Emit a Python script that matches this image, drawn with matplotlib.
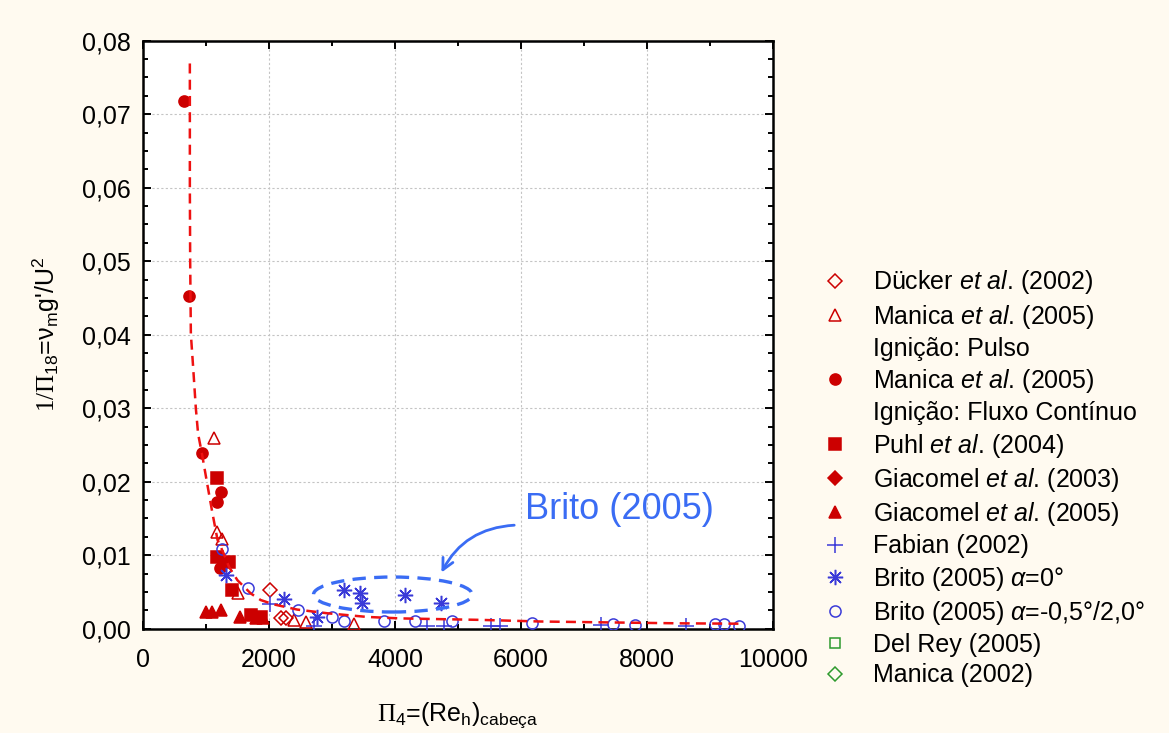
import matplotlib
matplotlib.use("Agg")
import matplotlib.pyplot as plt
from matplotlib.lines import Line2D
from matplotlib.patches import Ellipse
from matplotlib.ticker import MultipleLocator, FuncFormatter

plt.rcParams["font.family"] = ["Liberation Sans", "DejaVu Sans"]
plt.rcParams["mathtext.fontset"] = "custom"
plt.rcParams["mathtext.rm"] = "Liberation Serif"
plt.rcParams["mathtext.sf"] = "Liberation Sans"
plt.rcParams["mathtext.it"] = "Liberation Sans:italic"

# data
ducker_x = [2010, 2185, 2264]
ducker_y = [0.0052, 0.0014, 0.0014]

manica_pulso_x = [1129, 1182, 1251, 1515, 2395, 2580, 3345]
manica_pulso_y = [0.0260, 0.0132, 0.0122, 0.0048, 0.0012, 0.0009, 0.0007]

manica_fluxo_x = [649, 723, 934, 1171, 1235, 1224]
manica_fluxo_y = [0.0718, 0.0453, 0.0239, 0.0173, 0.0186, 0.0082]

puhl_x = [1167, 1182, 1361, 1420, 1710, 1868]
puhl_y = [0.0205, 0.0098, 0.0091, 0.0053, 0.00186, 0.00163]

giacomel03_x = []
giacomel03_y = []

giacomel05_x = [997, 1103, 1246, 1540, 1789, 1900]
giacomel05_y = [0.0023, 0.0023, 0.0026, 0.00155, 0.0015, 0.00146]

fabian_x = [2015, 2707, 4507, 4770, 5520, 5667, 7277, 8623]
fabian_y = [0.0034, 0.0003, 0.0003, 0.0003, 0.0004, 0.0004, 0.0005, 0.0004]

brito0_x = [1314, 2237, 2765, 3187, 3440, 3478, 4163, 4728]
brito0_y = [0.0073, 0.0041, 0.0016, 0.0053, 0.0048, 0.0035, 0.0046, 0.0035]

brito05_x = [1250, 1667, 2458, 3003, 3187, 3820, 4322, 4903, 6169, 7461, 7804, 9086, 9229, 9455]
brito05_y = [0.0108, 0.0056, 0.0025, 0.0016, 0.0010, 0.0010, 0.0010, 0.0010,
             0.0008, 0.0006, 0.0005, 0.0007, 0.0007, 0.0004]

delrey_x = []
delrey_y = []
manica02_x = []
manica02_y = []

fit_x = [744, 744, 749, 760, 796, 839, 875, 934, 1024, 1103, 1183, 1277, 1366, 1499,
         1710, 1868, 2078, 2449, 2924, 3557, 4084, 5351, 6300, 7250, 8517, 9466]
fit_y = [0.0769, 0.0601, 0.0502, 0.0401, 0.0356, 0.0300, 0.0265, 0.0239, 0.0195,
         0.0157, 0.0121, 0.0103, 0.0084, 0.0066, 0.0048, 0.0039, 0.0033, 0.0026,
         0.0021, 0.0016, 0.0014, 0.0012, 0.00098, 0.00087, 0.00073, 0.00068]

RED = "#cc0000"
BLUE = "#3a3ad8"
GREEN = "#2e9a2e"
HL = "#3a6cf4"

fig = plt.figure(figsize=(11.69, 7.33), dpi=100, facecolor="#fffaf0")
ax = fig.add_axes([0.1223, 0.1423, 0.539, 0.8022])
ax.set_facecolor("white")

series = [
    (ducker_x, ducker_y, "D", 7.5, "none", RED, r"Dücker $\mathit{et\ al}$. (2002)"),
    (manica_pulso_x, manica_pulso_y, "^", 8.5, "none", RED, r"Manica $\mathit{et\ al}$. (2005)"),
    (manica_fluxo_x, manica_fluxo_y, "o", 8, RED, RED, r"Manica $\mathit{et\ al}$. (2005)"),
    (puhl_x, puhl_y, "s", 8, RED, RED, r"Puhl $\mathit{et\ al}$. (2004)"),
    (giacomel03_x, giacomel03_y, "D", 7.5, RED, RED, r"Giacomel $\mathit{et\ al}$. (2003)"),
    (giacomel05_x, giacomel05_y, "^", 8.5, RED, RED, r"Giacomel $\mathit{et\ al}$. (2005)"),
    (fabian_x, fabian_y, "+", 11, BLUE, BLUE, "Fabian (2002)"),
    (brito0_x, brito0_y, (8, 2, 0), 11, BLUE, BLUE, r"Brito (2005) $\mathit{\alpha}$=0°"),
    (brito05_x, brito05_y, "o", 8, "none", BLUE, r"Brito (2005) $\mathit{\alpha}$=-0,5°/2,0°"),
    (delrey_x, delrey_y, "s", 7, "none", GREEN, "Del Rey (2005)"),
    (manica02_x, manica02_y, "D", 7, "none", GREEN, "Manica (2002)"),
]

handles = []
labels = []
blank = Line2D([], [], linestyle="none", marker="none")
for i, (xs, ys, m, ms, fc, ec, lab) in enumerate(series):
    h, = ax.plot(xs, ys, linestyle="none", marker=m, markersize=ms,
                 markerfacecolor=fc, markeredgecolor=ec, markeredgewidth=1.1, zorder=3)
    handles.append(h)
    labels.append(lab)
    if i == 1:
        handles.append(blank)
        labels.append("Ignição: Pulso")
    if i == 2:
        handles.append(blank)
        labels.append("Ignição: Fluxo Contínuo")

ax.plot(fit_x, fit_y, color="#ee1111", linestyle=(0, (4, 2.5)), linewidth=1.8, zorder=4)

ax.add_patch(Ellipse((3965, 0.00465), 2517, 0.00476, fill=False, edgecolor=HL,
                     linestyle=(0, (4, 2.5)), linewidth=2.4, zorder=5))
ax.annotate("", xy=(4717, 0.0073), xytext=(5936, 0.0141),
            arrowprops=dict(arrowstyle="->,head_length=0.8,head_width=0.4", color=HL,
                            lw=2, connectionstyle="arc3,rad=0.3"), zorder=5)
ax.text(6063, 0.01615, "Brito (2005)", color=HL, fontsize=26, va="center", ha="left")

ax.set_xlim(0, 10000)
ax.set_ylim(0, 0.08)
ax.xaxis.set_major_locator(MultipleLocator(2000))
ax.xaxis.set_minor_locator(MultipleLocator(1000))
ax.yaxis.set_major_locator(MultipleLocator(0.01))
ax.yaxis.set_minor_locator(MultipleLocator(0.0025))
ax.yaxis.set_major_formatter(FuncFormatter(lambda v, p: f"{v:.2f}".replace(".", ",")))
ax.tick_params(which="both", direction="in", top=True, right=True, labelsize=18, width=1.4)
ax.tick_params(which="major", length=6)
ax.tick_params(axis="x", which="major", pad=14)
ax.tick_params(axis="y", which="major", pad=9)
ax.tick_params(which="minor", length=3.5)
ax.grid(True, which="major", color="#c4c4c4", linestyle=(0, (2, 2)), linewidth=0.8)
ax.set_axisbelow(True)
for s in ax.spines.values():
    s.set_linewidth(1.8)

ax.set_xlabel(r"$\mathrm{\Pi}_\mathsf{4}$=(Re$_\mathsf{h}$)$_\mathsf{cabeça}$", fontsize=18, labelpad=20)
ax.set_ylabel(r"$\mathrm{1/\Pi}_\mathsf{18}$=ν$_\mathsf{m}$g'/U$^\mathsf{2}$", fontsize=18, labelpad=14)

fig.legend(handles, labels, loc="upper left", bbox_to_anchor=(0.704, 0.634),
           frameon=False, fontsize=18, handlelength=1.0, handletextpad=1.0,
           labelspacing=0.25, borderpad=0, borderaxespad=0)

fig.savefig("out.png", dpi=100, facecolor=fig.get_facecolor())
